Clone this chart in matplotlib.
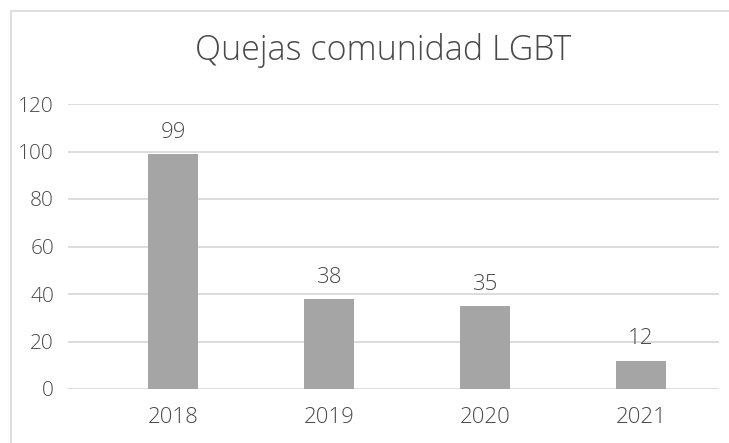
import matplotlib.pyplot as plt
from matplotlib.patches import Rectangle

years = ["2018", "2019", "2020", "2021"]
quejas = [99, 38, 35, 12]
y_ticks = [0, 20, 40, 60, 80, 100, 120]

plt.rcParams['font.family'] = ['Open Sans', 'DejaVu Sans']
text_col = '#4a4a4a'

fig = plt.figure(figsize=(7.29, 4.43), dpi=100)
ax = fig.add_axes([68 / 729, 54 / 443, 651 / 729, 285 / 443])

# chart border, cut off on the right and bottom like the original
fig.patches.append(Rectangle((11 / 729, -0.1), 1.2, (432 / 443) + 0.1,
                             transform=fig.transFigure, fill=False,
                             edgecolor='#D9D9D9', linewidth=1.2))

x = list(range(len(years)))
ax.bar(x, quejas, width=0.32, color='#A5A5A5', zorder=3)
for xi, v in zip(x, quejas):
    ax.annotate(str(v), (xi, v), xytext=(0, 8), textcoords='offset points',
                ha='center', va='bottom', fontsize=16, color=text_col,
                fontweight='light')

ax.set_xlim(-0.676, 3.5)
ax.set_ylim(0, 120)
ax.set_yticks(y_ticks)
ax.set_xticks(x)
ax.set_xticklabels(years)
ax.yaxis.grid(True, color='#D9D9D9', linewidth=1.3, zorder=0)
ax.set_axisbelow(True)
for s in ax.spines.values():
    s.set_visible(False)
ax.tick_params(axis='y', length=0, labelsize=15, labelcolor=text_col, pad=10)
ax.tick_params(axis='x', length=0, labelsize=16, labelcolor=text_col, pad=13)
for lab in ax.get_xticklabels() + ax.get_yticklabels():
    lab.set_fontweight('light')

fig.text(383 / 729, 1 - 51 / 443, "Quejas comunidad LGBT", ha='center', va='center',
         fontsize=24.5, color=text_col, fontweight='light')

fig.savefig('out.png', dpi=100)
